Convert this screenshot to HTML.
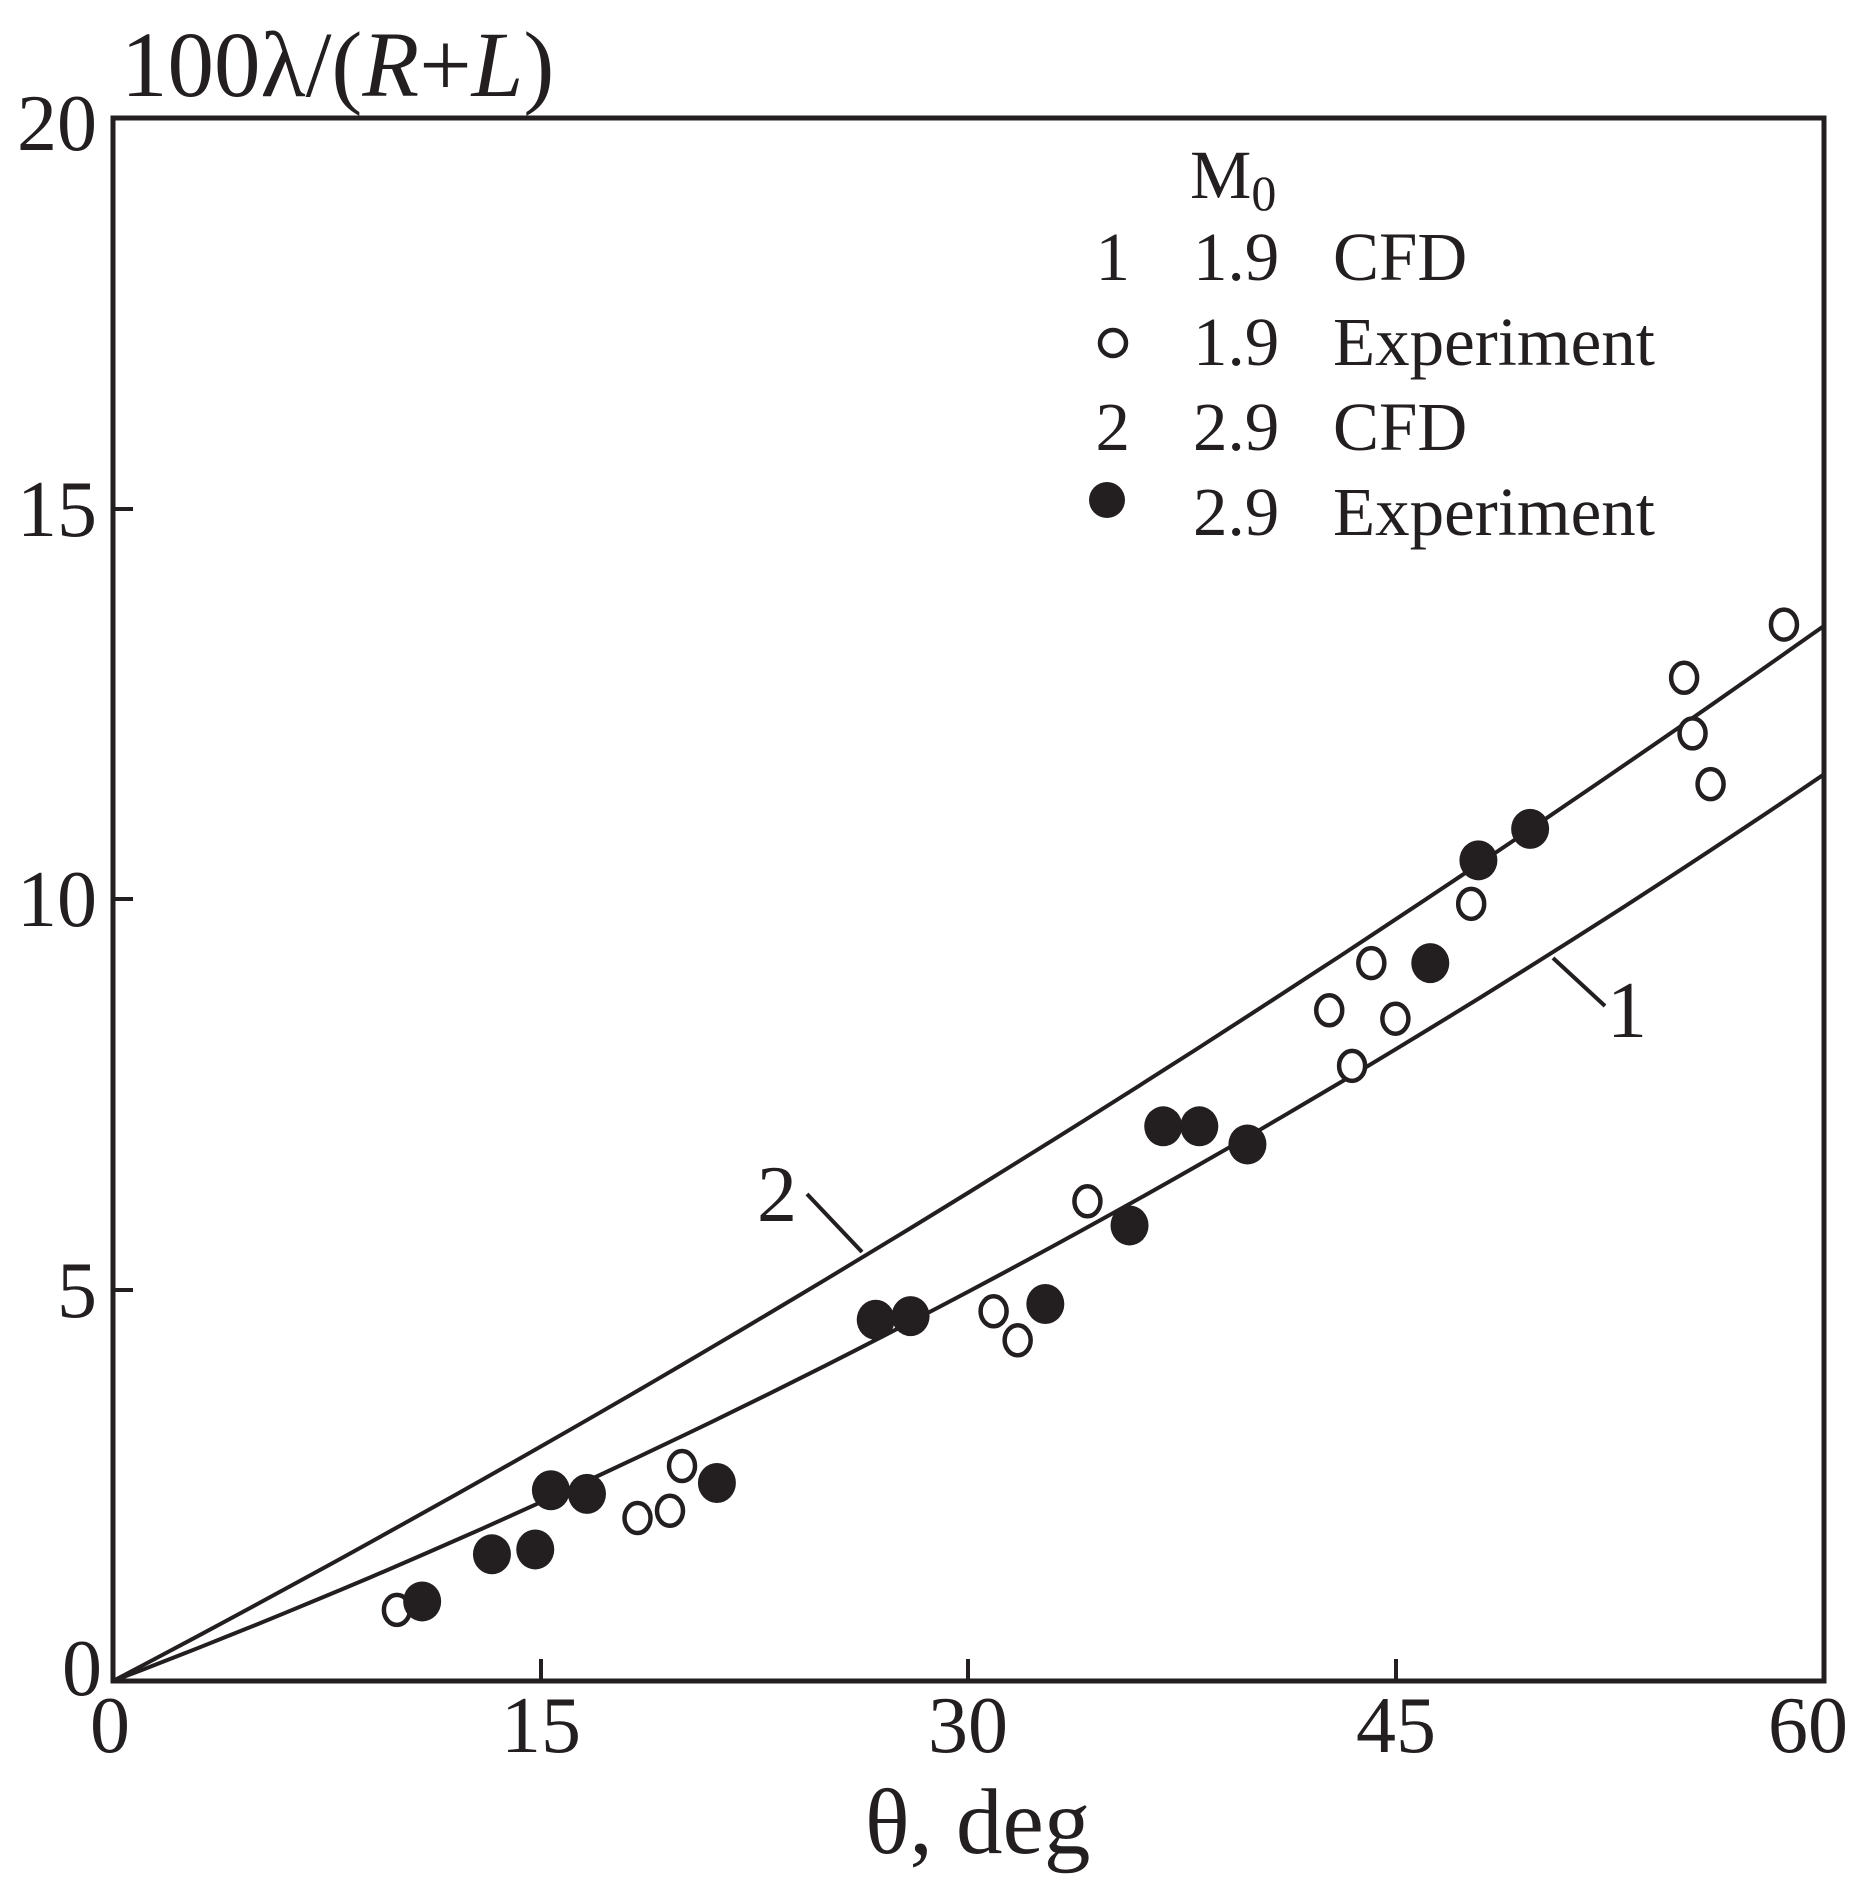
<!DOCTYPE html>
<html><head><meta charset="utf-8">
<style>html,body{margin:0;padding:0;background:#fff}svg{display:block}text{font-family:"Liberation Serif",serif;fill:#231f20}</style>
</head><body>
<svg id="s" width="1863" height="1890" viewBox="0 0 1863 1890" xmlns="http://www.w3.org/2000/svg">
<rect x="113" y="118" width="1711" height="1563" fill="none" stroke="#231f20" stroke-width="5"/>
<g stroke="#231f20" stroke-width="4">
<line x1="113" y1="1290" x2="133" y2="1290"/><line x1="113" y1="899" x2="133" y2="899"/><line x1="113" y1="509" x2="133" y2="509"/>
<line x1="541" y1="1681" x2="541" y2="1659"/><line x1="968" y1="1681" x2="968" y2="1659"/><line x1="1396" y1="1681" x2="1396" y2="1659"/>
<line x1="1553" y1="958" x2="1605" y2="1006"/><line x1="807" y1="1194" x2="862" y2="1252"/>
</g>
<g font-size="80" text-anchor="end">
<text x="97" y="150">20</text><text x="97" y="536">15</text><text x="97" y="926">10</text><text x="97" y="1317">5</text><text x="102" y="1695">0</text>
</g>
<g font-size="80" text-anchor="middle">
<text x="110" y="1752">0</text><text x="541" y="1752">15</text><text x="968" y="1752">30</text><text x="1396" y="1752">45</text><text x="1808" y="1752">60</text>
</g>
<text x="121" y="96" font-size="93">100λ/(<tspan font-style="italic">R</tspan>+<tspan font-style="italic">L</tspan>)</text>
<text x="865" y="1853" font-size="93">θ, deg</text>
<text x="1607" y="1037" font-size="80">1</text>
<text x="757" y="1221" font-size="80">2</text>
<g font-size="69">
<text x="1190" y="198">M<tspan font-size="50" dy="12">0</tspan></text>
<text x="1130" y="280" text-anchor="end">1</text><text x="1193" y="280">1.9</text><text x="1333" y="280">CFD</text>
<text x="1193" y="365">1.9</text><text x="1333" y="365">Experiment</text>
<text x="1130" y="450" text-anchor="end">2</text><text x="1193" y="450">2.9</text><text x="1333" y="450">CFD</text>
<text x="1193" y="535">2.9</text><text x="1333" y="535">Experiment</text>
</g>
<circle cx="1113" cy="343" r="13" fill="none" stroke="#231f20" stroke-width="4.5"/>
<circle cx="1107" cy="500" r="18" fill="#231f20"/>
<g id="curves" fill="none" stroke="#231f20" stroke-width="4"></g>
<g id="pts"></g>
</svg>
<script>
(function(){
var ns="http://www.w3.org/2000/svg";
function X(x){return 113+28.52*x;}function Y(y){return 1681-78.15*y;}
var cg=document.getElementById('curves');
function curve(a,b){var d="";for(var i=0;i<=60;i++){d+=(i?"L":"M")+X(i).toFixed(1)+","+Y(a*i+b*i*i).toFixed(1);}
var p=document.createElementNS(ns,'path');p.setAttribute('d',d);cg.appendChild(p);}
curve(0.1917,0.000556);curve(0.1389,0.000908);
var open=[[329,1334],[529,1258],[556,1252],[566,1215],[825,1087],[845,1111],[903,996],[1104,838],[1123,884],[1139,799],[1159,845],[1222,750],[1399,563],[1406,609],[1421,651],[1482,519]];
var fill=[[350,1327],[408,1288],[444,1284],[457,1235],[487,1238],[595,1229],[727,1094],[756,1091],[868,1081],[938,1016],[966,934],[996,934],[1036,949],[1188,799],[1228,714],[1271,688]];
var g=document.getElementById('pts');
function px(d){return [113+(d[0]-93)*1.203,118+(d[1]-100)*1.209];}
open.forEach(function(d){var p=px(d);var e=document.createElementNS(ns,'ellipse');e.setAttribute('cx',p[0]);e.setAttribute('cy',p[1]);e.setAttribute('rx',13);e.setAttribute('ry',15);e.setAttribute('fill','#fff');e.setAttribute('stroke','#231f20');e.setAttribute('stroke-width','4.5');g.appendChild(e);});
fill.forEach(function(d){var p=px(d);var e=document.createElementNS(ns,'ellipse');e.setAttribute('cx',p[0]);e.setAttribute('cy',p[1]);e.setAttribute('rx',19);e.setAttribute('ry',20);e.setAttribute('fill','#231f20');g.appendChild(e);});
})();
</script>
</body></html>
